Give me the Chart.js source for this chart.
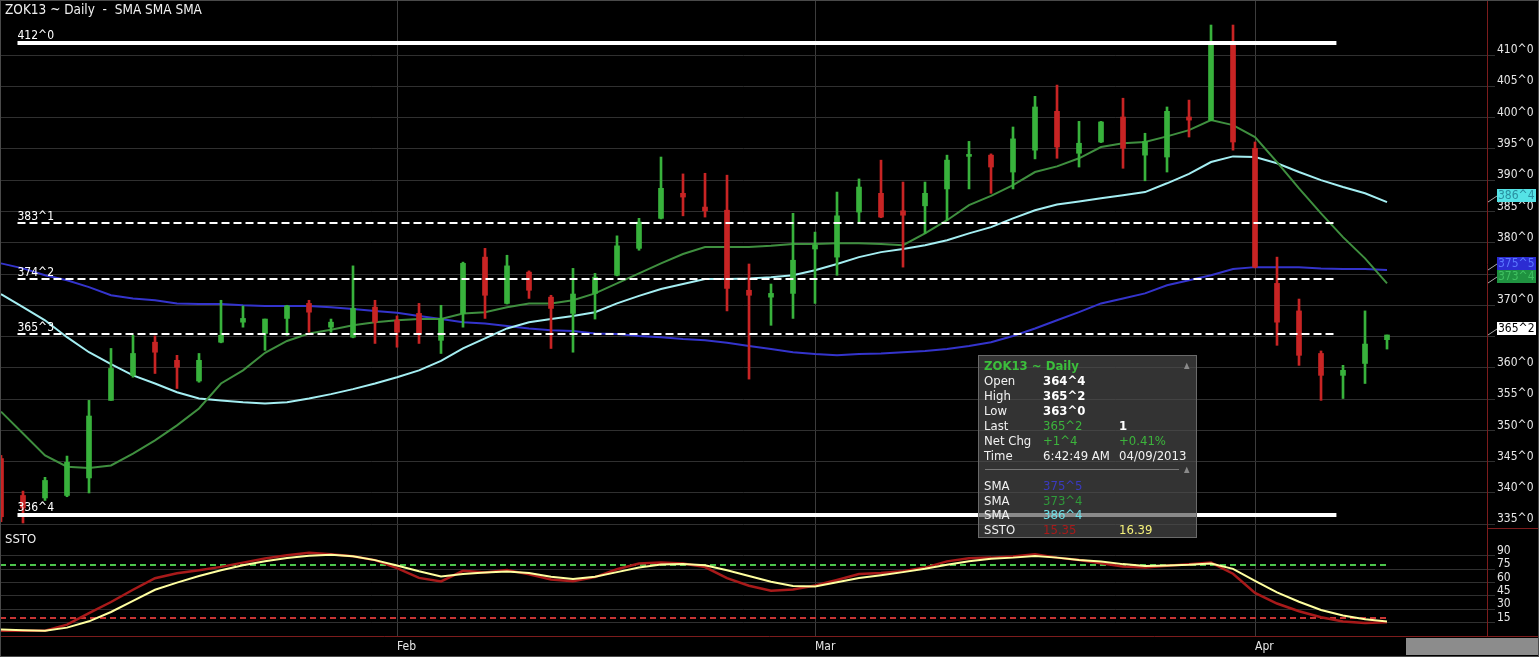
<!DOCTYPE html>
<html>
<head>
<meta charset="utf-8">
<script src="https://cdn.jsdelivr.net/npm/chart.js@4.4.0/dist/chart.umd.min.js"></script>
<style>
  html, body { margin: 0; padding: 0; background: #000; }
  #wrap { position: relative; width: 1539px; height: 657px; overflow: hidden; background: #000;
          font-family: "DejaVu Sans Condensed", "DejaVu Sans", sans-serif; color: #eee; }
  #priceCanvas { position: absolute; left: 0; top: 0; }
  #stoCanvas { position: absolute; left: 0; top: 528px; }
  #title { position: absolute; left: 5px; top: 1px; font-size: 13.5px; color: #f0f0f0; white-space: pre; }
  #stoTitle { position: absolute; left: 5px; top: 531px; font-size: 13px; color: #f0f0f0; }
  #scroll { position: absolute; left: 1406px; top: 638px; width: 133px; height: 17px; background: #8c8c8c; }
  #frame { position: absolute; left: 0; top: 0; width: 1539px; height: 657px; box-sizing: border-box;
           border: 1px solid #4a4a4a; pointer-events: none; }
  #info { position: absolute; left: 978px; top: 355px; width: 219px; height: 183px; box-sizing: border-box;
          background: rgba(78, 78, 78, 0.66); border: 1px solid #6a6a6a; font-size: 13px; }
  #info .r { position: absolute; left: 0; width: 100%; height: 15px; line-height: 15px; white-space: nowrap; }
  #info .c1 { position: absolute; left: 5px; color: #f2f2f2; }
  #info .c2 { position: absolute; left: 64px; }
  #info .c3 { position: absolute; left: 140px; }
  #info .b { font-weight: bold; color: #fff; }
  #info .tri { position: absolute; left: 205px; font-size: 8px; color: #8a8a8a; }
  #info .sep { position: absolute; left: 6px; top: 113px; width: 194px; height: 1px; background: #777; }
</style>
</head>
<body>
<div id="wrap">
  <canvas id="priceCanvas" width="1539" height="528"></canvas>
  <canvas id="stoCanvas" width="1539" height="129"></canvas>
  <div id="title">ZOK13 ~ Daily  -  SMA SMA SMA</div>
  <div id="stoTitle">SSTO</div>
  <div id="info">
    <div class="r" style="top:2px"><span class="c1" style="color:#3cbf3c;font-weight:bold">ZOK13 ~ Daily</span><span class="tri">▲</span></div>
    <div class="r" style="top:17px"><span class="c1">Open</span><span class="c2 b">364^4</span></div>
    <div class="r" style="top:32px"><span class="c1">High</span><span class="c2 b">365^2</span></div>
    <div class="r" style="top:47px"><span class="c1">Low</span><span class="c2 b">363^0</span></div>
    <div class="r" style="top:62px"><span class="c1">Last</span><span class="c2" style="color:#3cb43c">365^2</span><span class="c3 b">1</span></div>
    <div class="r" style="top:77px"><span class="c1">Net Chg</span><span class="c2" style="color:#3cb43c">+1^4</span><span class="c3" style="color:#3cb43c">+0.41%</span></div>
    <div class="r" style="top:92px"><span class="c1">Time</span><span class="c2" style="color:#f2f2f2">6:42:49 AM</span><span class="c3" style="color:#f2f2f2">04/09/2013</span></div>
    <div class="sep"></div>
    <div class="r" style="top:106px"><span class="tri">▲</span></div>
    <div class="r" style="top:122px"><span class="c1">SMA</span><span class="c2" style="color:#3a3ac0">375^5</span></div>
    <div class="r" style="top:137px"><span class="c1">SMA</span><span class="c2" style="color:#2f9a3a">373^4</span></div>
    <div class="r" style="top:151px"><span class="c1">SMA</span><span class="c2" style="color:#6fe0e8">386^4</span></div>
    <div class="r" style="top:166px"><span class="c1">SSTO</span><span class="c2" style="color:#a81a1a">15.35</span><span class="c3" style="color:#f4f07a">16.39</span></div>
  </div>
  <div id="scroll"></div>
  <div id="frame"></div>
</div>
<script>
// trading days shown on the chart
var dates = [
  '2013-01-07','2013-01-08','2013-01-09','2013-01-10','2013-01-11','2013-01-14','2013-01-15','2013-01-16',
  '2013-01-17','2013-01-18','2013-01-22','2013-01-23','2013-01-24','2013-01-25','2013-01-28','2013-01-29',
  '2013-01-30','2013-01-31',
  '2013-02-01','2013-02-04','2013-02-05','2013-02-06','2013-02-07','2013-02-08','2013-02-11','2013-02-12',
  '2013-02-13','2013-02-14','2013-02-15','2013-02-19','2013-02-20','2013-02-21','2013-02-22','2013-02-25',
  '2013-02-26','2013-02-27','2013-02-28',
  '2013-03-01','2013-03-04','2013-03-05','2013-03-06','2013-03-07','2013-03-08','2013-03-11','2013-03-12',
  '2013-03-13','2013-03-14','2013-03-15','2013-03-18','2013-03-19','2013-03-20','2013-03-21','2013-03-22',
  '2013-03-25','2013-03-26','2013-03-27','2013-03-28',
  '2013-04-01','2013-04-02','2013-04-03','2013-04-04','2013-04-05','2013-04-08','2013-04-09'
];
var monthNames = ['Jan','Feb','Mar','Apr','May','Jun','Jul','Aug','Sep','Oct','Nov','Dec'];

var opens = [
  345.5, 339.6, 339.2, 339.6, 342.4, 354.8, 358.8, 364.1, 361.2, 357.9, 364.1, 367.3, 365.5, 367.9, 370.3, 366.5,
  364.9, 369.7, 367.6, 368.7, 364.4, 368.7, 377.7, 370.3, 375.3, 371.3, 368.7, 371.9, 374.8, 379.1, 383.9, 387.9,
  385.7, 385.2, 372.4, 371.3, 371.9, 379.0, 377.7, 384.9, 387.9, 385.1, 385.9, 388.6, 393.8, 394.0, 391.3, 394.8,
  401.0, 394.3, 396.1, 400.1, 394.0, 393.7, 400.1, 399.6, 412.1, 395.1, 373.5, 369.1, 362.3, 358.8, 360.7, 364.5
];
var highs = [
  346.0, 340.3, 342.5, 345.9, 354.8, 363.1, 365.2, 365.1, 362.0, 362.3, 370.8, 369.9, 367.8, 370.0, 370.8, 367.8,
  376.3, 370.8, 368.3, 370.3, 370.0, 376.9, 379.1, 378.0, 375.5, 371.6, 375.9, 375.1, 381.1, 383.9, 393.7, 391.0,
  391.1, 390.8, 376.6, 373.4, 384.7, 381.7, 388.1, 390.2, 393.2, 389.7, 389.7, 394.0, 396.2, 394.2, 398.5, 403.4,
  405.2, 399.4, 399.4, 403.1, 397.5, 401.7, 402.8, 414.8, 414.8, 396.1, 377.7, 371.0, 362.7, 360.4, 369.1, 365.25
];
var lows = [
  335.4, 335.2, 338.8, 339.4, 340.0, 354.8, 358.5, 359.1, 356.7, 357.7, 364.0, 366.5, 362.8, 365.2, 365.7, 365.7,
  364.8, 363.9, 363.3, 363.9, 362.3, 366.5, 367.9, 370.2, 371.1, 363.1, 362.5, 367.8, 374.7, 378.8, 383.8, 384.3,
  384.1, 369.1, 358.2, 366.8, 367.9, 370.3, 374.8, 383.3, 384.0, 376.1, 381.5, 383.6, 388.6, 387.9, 388.6, 393.4,
  393.5, 392.1, 396.0, 391.9, 389.9, 391.3, 396.9, 399.5, 394.8, 376.0, 363.6, 360.4, 354.8, 355.1, 357.5, 363.0
];
var closes = [
  336.2, 337.6, 342.0, 344.9, 352.3, 359.9, 362.3, 362.5, 360.1, 361.2, 365.2, 367.9, 367.8, 369.9, 368.9, 367.3,
  369.5, 367.3, 365.7, 365.5, 367.9, 376.7, 371.6, 376.3, 372.4, 369.5, 371.8, 374.5, 379.5, 383.3, 388.7, 387.3,
  385.1, 372.7, 371.6, 371.9, 377.2, 379.6, 384.3, 388.9, 384.1, 384.4, 387.9, 393.2, 394.0, 392.1, 396.6, 401.7,
  395.3, 395.9, 399.3, 395.1, 396.2, 401.0, 399.6, 412.1, 396.1, 376.1, 367.3, 362.0, 358.8, 359.6, 363.8, 365.25
];

// three moving averages (blue, green, cyan)
var smaBlue = [
  376.7, 375.9, 374.8, 374.0, 372.9, 371.6, 371.1, 370.8, 370.3, 370.2, 370.2, 370.0, 369.9, 369.9, 369.9, 369.7,
  369.4, 369.1, 368.8, 368.3, 367.8, 367.3, 367.1, 366.7, 366.3, 366.0, 365.9, 365.5, 365.4, 365.1, 364.9, 364.6,
  364.4, 364.0, 363.5, 363.0, 362.5, 362.2, 362.0, 362.2, 362.3, 362.5, 362.7, 363.0, 363.5, 364.1, 365.1, 366.3,
  367.6, 368.9, 370.3, 371.1, 371.9, 373.2, 374.0, 374.8, 375.8, 376.1, 376.1, 376.1, 375.9, 375.8, 375.8, 375.625
];
var smaGreen = [
  353.0, 349.5, 346.0, 344.2, 344.0, 344.4, 346.3, 348.4, 350.8, 353.5, 357.5, 359.6, 362.4, 364.3, 365.5, 366.1,
  366.8, 367.3, 367.6, 367.8, 367.8, 368.7, 368.9, 369.7, 370.3, 370.3, 370.8, 371.9, 373.5, 375.1, 376.7, 378.2,
  379.3, 379.3, 379.3, 379.5, 379.8, 379.8, 379.9, 379.9, 379.8, 379.6, 381.5, 383.6, 386.0, 387.5, 389.2, 391.3,
  392.2, 393.5, 395.3, 395.9, 396.1, 397.0, 398.0, 399.6, 398.8, 396.9, 392.9, 388.7, 384.7, 380.9, 377.5, 373.5
];
var smaCyan = [
  371.8, 369.7, 367.6, 364.9, 362.5, 360.6, 358.8, 357.5, 356.1, 355.1, 354.8, 354.5, 354.3, 354.5, 355.1, 355.8,
  356.6, 357.5, 358.5, 359.6, 361.1, 363.1, 364.7, 366.3, 367.3, 367.8, 368.3, 368.9, 370.3, 371.5, 372.6, 373.4,
  374.2, 374.2, 374.3, 374.5, 374.8, 375.6, 376.6, 377.7, 378.5, 379.0, 379.6, 380.4, 381.5, 382.5, 383.9, 385.2,
  386.1, 386.6, 387.1, 387.6, 388.1, 389.5, 391.0, 392.9, 393.8, 393.7, 392.7, 391.3, 390.0, 388.9, 387.9, 386.5
];

// slow stochastic %K (red) and %D (yellow)
var stoK = [
  6, 6, 6, 12.8, 25.8, 38.2, 52, 65, 70.5, 74, 77.7, 82.5, 87, 90.7, 93.5, 92,
  89.6, 85.3, 76.3, 65.3, 61.3, 73.3, 71.5, 74.2, 69.3, 63.6, 61.5, 66.2, 75, 81.5, 82.5, 81.5,
  77.5, 65, 56.5, 50.8, 52.3, 56.7, 63, 69.6, 70.9, 72.9, 76.9, 83.9, 87.5, 88.1, 89.3, 91.9,
  88.1, 85.5, 81.9, 78.1, 77, 79, 80.6, 82.5, 70, 48.5, 36.5, 27.8, 21, 16.2, 14.7, 15.35
];
var stoD = [
  7.2, 6.5, 6, 9.4, 16.5, 27, 39.6, 52, 60, 67.5, 74, 79.5, 84, 87.7, 90.2, 91.2,
  89.6, 85.3, 79.2, 72.7, 67, 69.8, 71.3, 72.4, 70.9, 66.6, 64, 66.5, 71.8, 77, 80.5, 81,
  79.5, 73.8, 67.5, 61, 56.2, 55.6, 60.3, 65.3, 68.3, 71.8, 75.5, 80.2, 83.9, 86.8, 88.1, 90,
  88.1, 85.5, 83.7, 80.8, 78.8, 79.2, 80, 81.6, 75.5, 62, 49, 38.5, 29.2, 23, 18.8, 16.39
];
var stoBands = [80, 20];

// horizontal price levels
var levels = [412.0, 383.125, 374.25, 365.375, 336.5];

var priceTicks = { min: 335, max: 410, step: 5 };
var stoTicks = { min: 15, max: 90, step: 15 };

// ---------------------------------------------------------------

var FONT = '"DejaVu Sans Condensed", "DejaVu Sans", sans-serif';
var UP = '#38b23c', DOWN = '#c82424';
var AXIS_RED = '#7c1c1c';
var X_MIN = -0.0455, X_MAX = 67.545;

function fmt(v) {
  var w = Math.floor(v + 1e-9);
  return w + '^' + Math.round((v - w) * 8);
}

var monthStarts = [];
dates.forEach(function (d, i) {
  if (i > 0 && d.slice(5, 7) !== dates[i - 1].slice(5, 7)) monthStarts.push(i);
});

function xy(arr) {
  return arr.map(function (v, i) { return { x: i, y: v }; });
}

var candleColors = closes.map(function (c, i) { return c >= opens[i] ? UP : DOWN; });

function monthTicks(scale) {
  scale.ticks = monthStarts.map(function (v) { return { value: v }; });
}

// the panes must fill their canvas exactly, so drop the label overhang padding
function noPad(s) {
  s.paddingTop = 0; s.paddingBottom = 0; s.paddingLeft = 0; s.paddingRight = 0;
}

var levelsPlugin = {
  id: 'levels',
  afterDatasetsDraw: function (chart) {
    var ctx = chart.ctx, x = chart.scales.x, y = chart.scales.y;
    var x0 = x.getPixelForValue(0.75), x1 = x.getPixelForValue(60.7);
    var hi = Math.max.apply(null, levels), lo = Math.min.apply(null, levels);
    ctx.save();
    levels.forEach(function (v) {
      var solid = (v === hi || v === lo);
      var py = Math.round(y.getPixelForValue(v));
      ctx.strokeStyle = '#ffffff';
      ctx.lineWidth = solid ? 4 : 2;
      ctx.setLineDash(solid ? [] : [8, 4]);
      ctx.beginPath();
      ctx.moveTo(x0, py);
      ctx.lineTo(x1, py);
      ctx.stroke();
      ctx.fillStyle = '#ffffff';
      ctx.font = '12px ' + FONT;
      ctx.textAlign = 'left';
      ctx.textBaseline = 'bottom';
      ctx.fillText(fmt(v), x0, py - (solid ? 1 : 0));
    });
    ctx.restore();
  }
};

var lastValuePlugin = {
  id: 'lastValues',
  afterDraw: function (chart) {
    var ctx = chart.ctx, y = chart.scales.y, right = chart.chartArea.right;
    var n = closes.length - 1;
    var boxes = [
      { v: smaCyan[n], bg: '#55e3e6', fg: '#2a8fa0' },
      { v: smaBlue[n], bg: '#2c2cd2', fg: '#5a78ff' },
      { v: smaGreen[n], bg: '#1f9240', fg: '#3fc060' },
      { v: closes[n], bg: '#ffffff', fg: '#000000' }
    ];
    ctx.save();
    ctx.font = '12px ' + FONT;
    boxes.forEach(function (b) {
      var py = Math.round(y.getPixelForValue(b.v));
      ctx.strokeStyle = '#aaaaaa';
      ctx.lineWidth = 1;
      ctx.beginPath();
      ctx.moveTo(right + 1, py);
      ctx.lineTo(right + 10, py - 6);
      ctx.stroke();
      ctx.fillStyle = b.bg;
      ctx.fillRect(right + 10, py - 13, 39, 13);
      ctx.fillStyle = b.fg;
      ctx.textAlign = 'left';
      ctx.textBaseline = 'middle';
      ctx.fillText(fmt(b.v), right + 11, py - 6);
    });
    ctx.restore();
  }
};

new Chart(document.getElementById('priceCanvas'), {
  type: 'bar',
  data: {
    datasets: [
      { type: 'line', data: xy(smaBlue), borderColor: '#3434cc', borderWidth: 2, pointRadius: 0, pointHoverRadius: 0, pointHitRadius: 0, order: 5 },
      { type: 'line', data: xy(smaCyan), borderColor: '#a4eef2', borderWidth: 2, pointRadius: 0, pointHoverRadius: 0, pointHitRadius: 0, order: 4 },
      { type: 'line', data: xy(smaGreen), borderColor: '#3f8f3f', borderWidth: 2, pointRadius: 0, pointHoverRadius: 0, pointHitRadius: 0, order: 3 },
      {
        data: lows.map(function (l, i) { return { x: i, y: [l, highs[i]] }; }),
        backgroundColor: candleColors, barThickness: 2, grouped: false, order: 2
      },
      {
        data: opens.map(function (o, i) { return { x: i, y: [o, closes[i]] }; }),
        backgroundColor: candleColors, barThickness: 5, minBarLength: 2, grouped: false, order: 1
      }
    ]
  },
  options: {
    responsive: false,
    animation: false,
    layout: { padding: 0, autoPadding: false },
    plugins: { legend: { display: false }, tooltip: { enabled: false } },
    scales: {
      x: {
        type: 'linear', min: X_MIN, max: X_MAX, offset: false,
        afterBuildTicks: monthTicks,
        afterFit: noPad,
        ticks: { display: false },
        grid: { color: '#3c3c3c', drawTicks: false, offset: false },
        border: { display: false }
      },
      y: {
        position: 'right', min: 334.4, max: 418.8,
        ticks: {
          stepSize: priceTicks.step, includeBounds: false, color: '#e6e6e6', font: { family: FONT, size: 12 },
          labelOffset: -5, padding: 2,
          callback: function (v) { return (v < priceTicks.min || v > priceTicks.max) ? null : fmt(v); }
        },
        grid: { color: '#303030', tickLength: 8 },
        border: { color: AXIS_RED },
        afterFit: function (s) { noPad(s); s.width = 52; }
      }
    }
  },
  plugins: [levelsPlugin, lastValuePlugin]
});

var stoPlugin = {
  id: 'stoBands',
  beforeDatasetsDraw: function (chart) {
    var ctx = chart.ctx, x = chart.scales.x, y = chart.scales.y, a = chart.chartArea;
    var xEnd = x.getPixelForValue(stoK.length - 1);
    ctx.save();
    ctx.lineWidth = 2;
    ctx.setLineDash([6, 4]);
    stoBands.forEach(function (v, k) {
      var py = Math.round(y.getPixelForValue(v));
      ctx.strokeStyle = k === 0 ? '#4cc44c' : '#c83434';
      ctx.beginPath();
      ctx.moveTo(a.left, py);
      ctx.lineTo(xEnd, py);
      ctx.stroke();
    });
    ctx.restore();
  },
  afterDraw: function (chart) {
    var ctx = chart.ctx, a = chart.chartArea;
    ctx.save();
    ctx.strokeStyle = AXIS_RED;
    ctx.lineWidth = 1;
    ctx.beginPath();
    ctx.moveTo(0, Math.round(a.bottom) + 0.5);
    ctx.lineTo(chart.width, Math.round(a.bottom) + 0.5);
    ctx.moveTo(a.right, 0.5);
    ctx.lineTo(chart.width, 0.5);
    ctx.stroke();
    ctx.restore();
  }
};

new Chart(document.getElementById('stoCanvas'), {
  type: 'line',
  data: {
    datasets: [
      { data: xy(stoD), borderColor: '#ffffa0', borderWidth: 2, pointRadius: 0, pointHoverRadius: 0, pointHitRadius: 0, order: 1 },
      { data: xy(stoK), borderColor: '#a81a1a', borderWidth: 2.5, pointRadius: 0, pointHoverRadius: 0, pointHitRadius: 0, order: 2 }
    ]
  },
  options: {
    responsive: false,
    animation: false,
    layout: { padding: 0, autoPadding: false },
    plugins: { legend: { display: false }, tooltip: { enabled: false } },
    scales: {
      x: {
        type: 'linear', min: X_MIN, max: X_MAX, offset: false,
        afterBuildTicks: monthTicks,
        ticks: {
          color: '#e6e6e6', font: { family: FONT, size: 12 }, align: 'start', padding: 4, maxRotation: 0,
          autoSkip: false,
          callback: function (v) { return monthNames[parseInt(dates[v].slice(5, 7), 10) - 1]; }
        },
        grid: { color: '#3c3c3c', drawTicks: false },
        border: { display: false },
        afterFit: function (s) { noPad(s); s.height = 21; }
      },
      y: {
        position: 'right', min: 0, max: 121.4,
        ticks: {
          stepSize: stoTicks.step, color: '#e6e6e6', font: { family: FONT, size: 12 },
          labelOffset: -5, padding: 2,
          callback: function (v) { return (v < stoTicks.min || v > stoTicks.max) ? null : v; }
        },
        grid: { color: '#303030', tickLength: 8 },
        border: { color: AXIS_RED },
        afterFit: function (s) { noPad(s); s.width = 52; }
      }
    }
  },
  plugins: [stoPlugin]
});
</script>
</body>
</html>
